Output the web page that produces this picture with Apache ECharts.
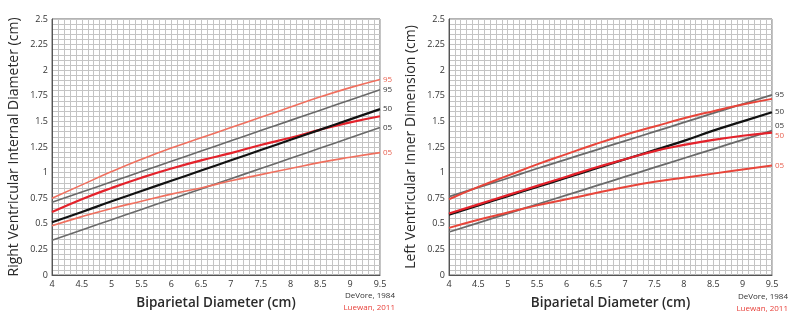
<!DOCTYPE html>
<html>
<head>
<meta charset="utf-8">
<script src="https://cdn.jsdelivr.net/npm/echarts@6/dist/echarts.min.js"></script>
<style>
html,body{margin:0;padding:0;background:#fff;}
#c{width:800px;height:324px;}
</style>
</head>
<body>
<div id="c"></div>
<script>
// Biparietal diameter (cm)
var bpd = [4, 4.5, 5, 5.5, 6, 6.5, 7, 7.5, 8, 8.5, 9, 9.5];

// Right ventricular internal diameter (cm)
var rvDeVore95 = [0.71, 0.81, 0.91, 1.01, 1.11, 1.21, 1.31, 1.41, 1.51, 1.61, 1.71, 1.81];
var rvDeVore50 = [0.515, 0.615, 0.72, 0.82, 0.92, 1.02, 1.12, 1.22, 1.32, 1.42, 1.52, 1.62];
var rvDeVore05 = [0.34, 0.44, 0.54, 0.64, 0.74, 0.84, 0.94, 1.04, 1.14, 1.24, 1.34, 1.44];
var rvLuewan95 = [0.75, 0.88, 1.01, 1.13, 1.24, 1.34, 1.44, 1.54, 1.64, 1.74, 1.83, 1.91];
var rvLuewan50 = [0.615, 0.74, 0.85, 0.95, 1.04, 1.12, 1.19, 1.27, 1.34, 1.42, 1.49, 1.55];
var rvLuewan05 = [0.48, 0.57, 0.65, 0.72, 0.79, 0.85, 0.92, 0.98, 1.04, 1.10, 1.15, 1.195];

// Left ventricular inner dimension (cm)
var lvDeVore95 = [0.765, 0.855, 0.945, 1.04, 1.13, 1.22, 1.31, 1.40, 1.49, 1.58, 1.67, 1.76];
var lvDeVore50 = [0.59, 0.68, 0.77, 0.86, 0.95, 1.04, 1.13, 1.22, 1.31, 1.41, 1.50, 1.59];
var lvDeVore05 = [0.42, 0.51, 0.60, 0.69, 0.78, 0.87, 0.96, 1.05, 1.14, 1.23, 1.32, 1.41];
var lvLuewan95 = [0.74, 0.86, 0.97, 1.08, 1.18, 1.28, 1.37, 1.45, 1.53, 1.60, 1.665, 1.72];
var lvLuewan50 = [0.60, 0.69, 0.78, 0.87, 0.96, 1.05, 1.13, 1.21, 1.27, 1.32, 1.36, 1.39];
var lvLuewan05 = [0.46, 0.54, 0.61, 0.68, 0.74, 0.80, 0.86, 0.91, 0.95, 0.99, 1.03, 1.07];

var xTitle = 'Biparietal Diameter (cm)';
var yTitles = ['Right Ventricular Internal Diameter (cm)', 'Left Ventricular Inner Dimension (cm)'];
var pctLabels = ['95', '50', '05'];
var sources = ['DeVore, 1984', 'Luewan, 2011'];

var FONT = 'Open Sans';
function pts(arr){ return bpd.map(function(x,i){ return [x, arr[i]]; }); }

function xAx(gi){
  return {
    gridIndex: gi, type: 'value', min: 4, max: 9.5, interval: 0.5,
    name: xTitle, nameLocation: 'middle', nameGap: 21,
    nameTextStyle: {fontFamily: FONT, fontSize: 13.5, color: '#2a2a2a', fontWeight: 600},
    axisLine: {show: true, lineStyle: {color: '#555', width: 1}},
    axisTick: {show: false},
    axisLabel: {fontFamily: FONT, fontSize: 9, color: '#333', margin: 5},
    splitLine: {show: true, lineStyle: {color: '#c4c4c4', width: 1}},
    minorTick: {show: false, splitNumber: 5},
    minorSplitLine: {show: true, lineStyle: {color: '#c4c4c4', width: 1}}
  };
}
function yAx(gi){
  return {
    gridIndex: gi, type: 'value', min: 0, max: 2.5, interval: 0.25,
    name: yTitles[gi], nameLocation: 'middle', nameGap: 31,
    nameTextStyle: {fontFamily: FONT, fontSize: 14, color: '#2a2a2a'},
    axisLine: {show: true, lineStyle: {color: '#555', width: 1}},
    axisTick: {show: false},
    axisLabel: {fontFamily: FONT, fontSize: 9, color: '#333', margin: 4},
    splitLine: {show: true, lineStyle: {color: '#c4c4c4', width: 1}},
    minorTick: {show: false, splitNumber: 5},
    minorSplitLine: {show: true, lineStyle: {color: '#c4c4c4', width: 1}}
  };
}
function ser(gi, data, color, width, label, labelColor, z, offset){
  return {
    type: 'line', xAxisIndex: gi, yAxisIndex: gi, data: pts(data),
    smooth: true, showSymbol: false, symbol: 'none', z: z,
    lineStyle: {color: color, width: width},
    endLabel: {show: label !== null, formatter: label || '', color: labelColor, fontFamily: FONT, fontSize: 8, distance: 3, offset: offset || [0, 0]},
    animation: false
  };
}

var chart = echarts.init(document.getElementById('c'), null, {renderer: 'canvas'});
chart.setOption({
  animation: false,
  backgroundColor: '#fff',
  grid: [
    {left: 52, top: 19, width: 328, height: 256, show: true, borderColor: '#666', borderWidth: 1},
    {left: 449, top: 19, width: 323, height: 256, show: true, borderColor: '#666', borderWidth: 1}
  ],
  xAxis: [xAx(0), xAx(1)],
  yAxis: [yAx(0), yAx(1)],
  series: [
    ser(0, rvLuewan95, '#f0705f', 1.6, pctLabels[0], '#e8604f', 3),
    ser(0, rvDeVore95, '#6a6a6a', 1.6, pctLabels[0], '#333', 3),
    ser(0, rvLuewan50, '#e4222b', 2.2, null, '#e8604f', 4),
    ser(0, rvDeVore50, '#111', 2.2, pctLabels[1], '#333', 5),
    ser(0, rvDeVore05, '#6a6a6a', 1.6, pctLabels[2], '#333', 3),
    ser(0, rvLuewan05, '#f0705f', 1.6, pctLabels[2], '#e8604f', 3),

    ser(1, lvDeVore95, '#6a6a6a', 1.8, pctLabels[0], '#333', 3),
    ser(1, lvLuewan95, '#e8453a', 2, null, '#e8604f', 4),
    ser(1, lvDeVore50, '#111', 2.2, pctLabels[1], '#333', 4),
    ser(1, lvLuewan50, '#e4222b', 2.2, pctLabels[1], '#e8604f', 5, [0, 3]),
    ser(1, lvDeVore05, '#6a6a6a', 1.8, pctLabels[2], '#333', 3, [0, -5]),
    ser(1, lvLuewan05, '#e8453a', 2, pctLabels[2], '#e8604f', 4)
  ],
  graphic: [
    {type: 'text', right: 405, top: 292, style: {text: sources[0], fill: '#333', font: '8px "Open Sans"'}},
    {type: 'text', right: 405, top: 304, style: {text: sources[1], fill: '#e8403a', font: '8px "Open Sans"'}},
    {type: 'text', right: 12, top: 293, style: {text: sources[0], fill: '#333', font: '8px "Open Sans"'}},
    {type: 'text', right: 12, top: 305, style: {text: sources[1], fill: '#e8403a', font: '8px "Open Sans"'}}
  ]
});
</script>
</body>
</html>
